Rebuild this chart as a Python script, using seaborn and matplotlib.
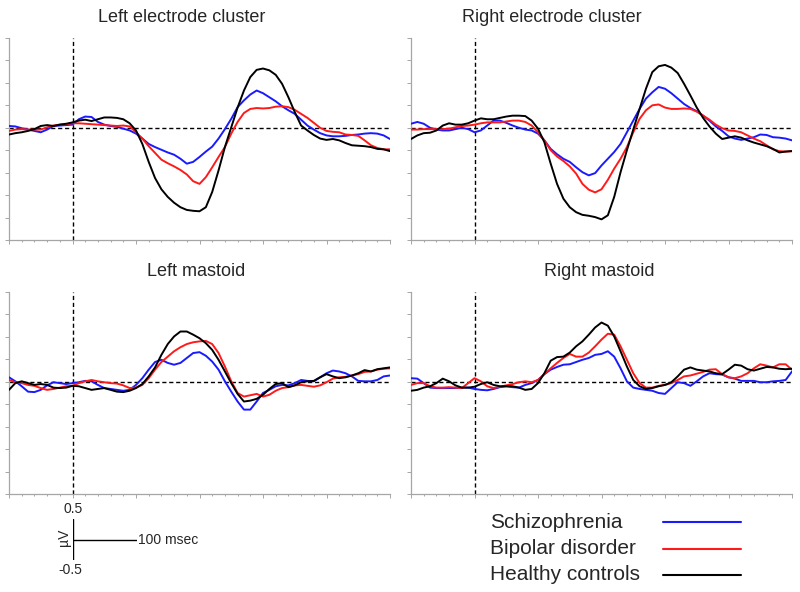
import matplotlib.pyplot as plt
import numpy as np
import pandas as pd
import seaborn as sns
from matplotlib.ticker import MultipleLocator

""" Data read off the figure (µV, 10 ms steps from -100 to 500 ms) """
time_ms = np.arange(-100, 501, 10)
groups = ["Schizophrenia", "Bipolar disorder", "Healthy controls"]
group_colors = {
    "Schizophrenia": "#1a1aff",
    "Bipolar disorder": "#ff1a1a",
    "Healthy controls": "#000000",
}

# Left electrode cluster
lec_scz = [0.04, 0.03, -0.01, -0.04, -0.07, -0.10, -0.04, 0.04, 0.05, 0.06,
           0.07, 0.19, 0.25, 0.24, 0.13, 0.07, 0.04, 0.02, -0.02, -0.06,
           -0.13, -0.24, -0.36, -0.43, -0.49, -0.55, -0.60, -0.69, -0.80, -0.76,
           -0.65, -0.53, -0.42, -0.24, -0.03, 0.20, 0.46, 0.61, 0.74, 0.83,
           0.77, 0.68, 0.59, 0.48, 0.39, 0.31, 0.18, 0.05, -0.04, -0.12,
           -0.17, -0.19, -0.19, -0.18, -0.16, -0.15, -0.13, -0.12, -0.13, -0.17, -0.25]
lec_bip = [-0.07, -0.04, -0.03, -0.04, -0.04, -0.04, 0.01, 0.05, 0.07, 0.08,
           0.10, 0.10, 0.09, 0.08, 0.07, 0.06, 0.05, 0.04, 0.05, 0.03,
           -0.10, -0.24, -0.41, -0.56, -0.71, -0.79, -0.86, -0.94, -1.04, -1.19,
           -1.25, -1.10, -0.88, -0.65, -0.43, -0.13, 0.13, 0.33, 0.42, 0.44,
           0.43, 0.44, 0.47, 0.48, 0.46, 0.40, 0.31, 0.22, 0.11, 0.00,
           -0.07, -0.09, -0.10, -0.15, -0.16, -0.18, -0.28, -0.39, -0.45, -0.48, -0.48]
lec_hc = [-0.15, -0.12, -0.10, -0.07, -0.03, 0.04, 0.06, 0.04, 0.07, 0.09,
          0.12, 0.16, 0.18, 0.15, 0.19, 0.23, 0.23, 0.22, 0.19, 0.10,
          -0.06, -0.36, -0.76, -1.12, -1.37, -1.54, -1.67, -1.77, -1.83, -1.85,
          -1.86, -1.77, -1.43, -0.95, -0.43, 0.01, 0.45, 0.83, 1.13, 1.29,
          1.32, 1.28, 1.18, 0.98, 0.68, 0.35, 0.05, -0.06, -0.16, -0.24,
          -0.27, -0.25, -0.28, -0.34, -0.39, -0.40, -0.41, -0.43, -0.47, -0.48, -0.52]

# Right electrode cluster
rec_scz = [0.09, 0.13, 0.09, 0.00, -0.04, -0.06, -0.06, -0.03, 0.00, -0.03,
           -0.10, -0.06, 0.05, 0.16, 0.16, 0.11, 0.05, 0.00, -0.04, -0.06,
           -0.13, -0.28, -0.47, -0.59, -0.69, -0.76, -0.88, -0.99, -1.06, -1.01,
           -0.84, -0.69, -0.54, -0.36, -0.10, 0.16, 0.42, 0.65, 0.79, 0.91,
           0.87, 0.77, 0.65, 0.53, 0.44, 0.37, 0.27, 0.16, 0.03, -0.07,
           -0.19, -0.24, -0.27, -0.24, -0.21, -0.15, -0.16, -0.21, -0.22, -0.24, -0.28]
rec_bip = [-0.04, -0.04, -0.03, -0.03, -0.03, -0.03, -0.02, 0.01, 0.04, 0.05,
           0.07, 0.10, 0.12, 0.12, 0.12, 0.14, 0.16, 0.16, 0.13, 0.05,
           -0.10, -0.28, -0.50, -0.64, -0.74, -0.86, -1.02, -1.25, -1.38, -1.44,
           -1.37, -1.16, -0.91, -0.69, -0.43, -0.10, 0.20, 0.39, 0.50, 0.52,
           0.45, 0.42, 0.42, 0.43, 0.42, 0.36, 0.27, 0.18, 0.07, -0.01,
           -0.06, -0.07, -0.10, -0.17, -0.24, -0.30, -0.39, -0.48, -0.52, -0.53, -0.52]
rec_hc = [-0.25, -0.17, -0.12, -0.11, -0.06, 0.05, 0.10, 0.07, 0.07, 0.10,
          0.16, 0.21, 0.19, 0.19, 0.22, 0.25, 0.27, 0.27, 0.26, 0.16,
          -0.02, -0.32, -0.80, -1.25, -1.58, -1.77, -1.88, -1.94, -1.96, -1.99,
          -2.04, -1.95, -1.54, -0.99, -0.50, -0.04, 0.42, 0.87, 1.24, 1.37,
          1.40, 1.34, 1.22, 0.98, 0.72, 0.45, 0.22, 0.03, -0.13, -0.25,
          -0.22, -0.19, -0.22, -0.28, -0.33, -0.37, -0.41, -0.47, -0.55, -0.53, -0.52]

# Left mastoid
lm_scz = [0.10, 0.01, -0.10, -0.22, -0.23, -0.18, -0.08, -0.01, -0.03, -0.05,
          -0.03, -0.01, 0.02, 0.01, -0.07, -0.14, -0.16, -0.18, -0.20, -0.18,
          -0.07, 0.08, 0.27, 0.44, 0.49, 0.42, 0.38, 0.42, 0.53, 0.64,
          0.66, 0.58, 0.45, 0.27, 0.01, -0.22, -0.44, -0.62, -0.62, -0.44,
          -0.25, -0.18, -0.10, -0.07, -0.08, -0.03, 0.04, 0.02, 0.01, 0.10,
          0.19, 0.25, 0.23, 0.19, 0.12, 0.02, 0.01, 0.01, 0.04, 0.12, 0.14]
lm_bip = [0.04, -0.01, -0.03, -0.07, -0.09, -0.14, -0.18, -0.16, -0.13, -0.10,
          -0.09, -0.03, 0.01, 0.04, 0.01, -0.01, -0.03, -0.04, -0.08, -0.14,
          -0.13, -0.07, 0.08, 0.27, 0.44, 0.56, 0.68, 0.77, 0.84, 0.88,
          0.90, 0.91, 0.84, 0.64, 0.34, 0.01, -0.25, -0.33, -0.30, -0.27,
          -0.33, -0.29, -0.20, -0.14, -0.12, -0.08, -0.07, -0.09, -0.11, -0.08,
          -0.01, 0.07, 0.10, 0.11, 0.14, 0.17, 0.22, 0.23, 0.27, 0.29, 0.30]
lm_hc = [-0.18, -0.03, 0.01, -0.03, -0.07, -0.05, -0.07, -0.13, -0.14, -0.13,
         -0.09, -0.10, -0.14, -0.18, -0.16, -0.14, -0.18, -0.22, -0.23, -0.20,
         -0.14, -0.05, 0.12, 0.32, 0.60, 0.84, 1.01, 1.12, 1.12, 1.05,
         0.97, 0.86, 0.71, 0.49, 0.23, -0.03, -0.27, -0.44, -0.42, -0.38,
         -0.29, -0.16, -0.05, -0.03, -0.12, -0.08, -0.01, 0.01, 0.02, 0.10,
         0.17, 0.12, 0.08, 0.10, 0.14, 0.19, 0.26, 0.23, 0.28, 0.30, 0.32]

# Right mastoid
rm_scz = [0.08, 0.07, -0.03, -0.13, -0.14, -0.14, -0.14, -0.14, -0.13, -0.13,
          -0.16, -0.18, -0.19, -0.16, -0.12, -0.10, -0.12, -0.13, -0.07, -0.03,
          0.04, 0.17, 0.27, 0.33, 0.38, 0.39, 0.44, 0.49, 0.53, 0.60,
          0.62, 0.68, 0.56, 0.30, 0.01, -0.13, -0.16, -0.18, -0.20, -0.25,
          -0.27, -0.14, -0.01, -0.03, -0.09, 0.01, 0.12, 0.19, 0.17, 0.16,
          0.10, 0.07, 0.02, 0.02, 0.02, -0.01, -0.01, 0.01, 0.02, 0.04, 0.23]
rm_bip = [-0.07, -0.03, -0.03, -0.10, -0.13, -0.13, -0.12, -0.13, -0.14, -0.03,
          0.08, 0.01, -0.10, -0.14, -0.11, -0.08, -0.05, -0.01, 0.01, -0.01,
          0.04, 0.17, 0.30, 0.42, 0.53, 0.62, 0.56, 0.56, 0.65, 0.79,
          0.94, 1.07, 1.05, 0.79, 0.49, 0.19, -0.03, -0.13, -0.13, -0.09,
          -0.07, -0.03, 0.04, 0.12, 0.14, 0.18, 0.22, 0.27, 0.28, 0.17,
          0.10, 0.08, 0.12, 0.19, 0.30, 0.39, 0.36, 0.32, 0.39, 0.39, 0.27]
rm_hc = [-0.20, -0.18, -0.13, -0.10, -0.03, 0.07, 0.01, -0.08, -0.13, -0.13,
         -0.11, -0.05, -0.01, -0.07, -0.10, -0.10, -0.10, -0.13, -0.18, -0.16,
         -0.03, 0.19, 0.47, 0.55, 0.56, 0.65, 0.79, 0.90, 1.05, 1.21,
         1.32, 1.25, 1.01, 0.68, 0.34, 0.04, -0.10, -0.16, -0.14, -0.10,
         -0.07, -0.01, 0.12, 0.27, 0.32, 0.27, 0.25, 0.23, 0.19, 0.17,
         0.27, 0.38, 0.36, 0.28, 0.25, 0.29, 0.33, 0.32, 0.29, 0.28, 0.29]

panels = [
    ("Left electrode cluster", lec_scz, lec_bip, lec_hc),
    ("Right electrode cluster", rec_scz, rec_bip, rec_hc),
    ("Left mastoid", lm_scz, lm_bip, lm_hc),
    ("Right mastoid", rm_scz, rm_bip, rm_hc),
]

""" Layout (pixels of the 800x592 figure) """
W, H = 800, 592
axes_px = [(9, 38), (411, 38), (9, 292), (411, 292)]  # left, top
axes_w, axes_h = 381, 202
title_px = [(182, 18), (552, 18), (196, 272), (599, 272)]
spine_gray = "#a6a6a6"

sns.set_style("white")
plt.rcParams["font.family"] = ["Liberation Sans", "DejaVu Sans"]

fig = plt.figure(figsize=(8, 5.92), dpi=100)

for (title, scz, bip, hc), (px, py), (tx, ty) in zip(panels, axes_px, title_px):
    ax = fig.add_axes([px / W, 1 - (py + axes_h) / H, axes_w / W, axes_h / H])
    df = pd.DataFrame({
        "time": np.tile(time_ms, 3),
        "amp": np.concatenate([scz, bip, hc]),
        "group": np.repeat(groups, len(time_ms)),
    })
    ax.axhline(0, color="black", linestyle=(0, (3, 2)), linewidth=1.0, zorder=1)
    ax.axvline(0, color="black", linestyle=(0, (3, 2)), linewidth=1.0, zorder=1)
    sns.lineplot(data=df, x="time", y="amp", hue="group", hue_order=groups,
                 palette=group_colors, errorbar=None, linewidth=1.4,
                 legend=False, ax=ax, zorder=3)
    ax.set(xlim=(-100, 500), ylim=(-2.5, 2.0), xlabel="", ylabel="")
    ax.xaxis.set_major_locator(MultipleLocator(100))
    ax.xaxis.set_minor_locator(MultipleLocator(20))
    ax.yaxis.set_major_locator(MultipleLocator(0.5))
    ax.tick_params(which="both", bottom=True, left=True, direction="out",
                   color=spine_gray, width=0.7, labelbottom=False, labelleft=False)
    ax.tick_params(which="major", length=3)
    ax.tick_params(which="minor", length=1.5)
    sns.despine(ax=ax)
    for side in ("left", "bottom"):
        ax.spines[side].set_color(spine_gray)
        ax.spines[side].set_linewidth(0.9)
    fig.text(tx / W, 1 - ty / H, title, ha="center", va="center", fontsize=13)

# Scale bar: 100 msec and +/-0.5 µV
scale_ms = 100
scale_uv = 0.5
sb = fig.add_axes([72.7 / W, 1 - 560 / H, 64.3 / W, 41 / H])
sb.plot([0, 0], [-scale_uv, scale_uv], color="black", linewidth=1.0)
sb.plot([0, scale_ms], [0, 0], color="black", linewidth=1.0)
sb.set(xlim=(0, scale_ms), ylim=(-scale_uv, scale_uv))
sb.axis("off")
sb.text(0, scale_uv + 0.08, f"{scale_uv}", ha="center", va="bottom", fontsize=10)
sb.text(-3, -scale_uv - 0.08, f"{-scale_uv}", ha="center", va="top", fontsize=10)
sb.text(scale_ms + 2, 0, f"{scale_ms} msec", ha="left", va="center", fontsize=10)
sb.text(-14, 0.05, "µV", ha="center", va="center", rotation=90, fontsize=10)

# Legend: label on the left, line on the right
lg = fig.add_axes([0, 0, 1, 1])
lg.set(xlim=(0, W), ylim=(H, 0))
lg.axis("off")
for i, g in enumerate(groups):
    y = 522 + i * 26.5
    lg.text(490, y, g, ha="left", va="center", fontsize=15)
    lg.plot([663, 741], [y, y], color=group_colors[g], linewidth=1.5)

plt.savefig("out.png", dpi=100)
